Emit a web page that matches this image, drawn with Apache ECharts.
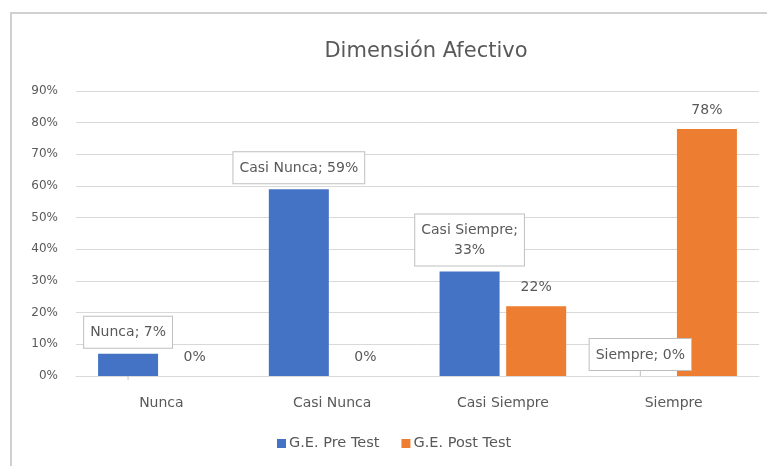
<!DOCTYPE html>
<html>
<head>
<meta charset="utf-8">
<script src="https://cdn.jsdelivr.net/npm/echarts@6/dist/echarts.min.js"></script>
<style>
  html, body { margin: 0; padding: 0; background: #fff; }
  #chart { width: 767px; height: 466px; }
</style>
</head>
<body>
<div id="chart"></div>
<script>
const categories = ['Nunca', 'Casi Nunca', 'Casi Siempre', 'Siempre']
const preTest = [7, 59, 33, 0]
const postTest = [0, 0, 22, 78]
const seriesNames = ['G.E. Pre Test', 'G.E. Post Test']
const yTicks = [0, 10, 20, 30, 40, 50, 60, 70, 80, 90]

const FONT = '"DejaVu Sans", sans-serif'
const TEXT = '#595959'

const chart = echarts.init(document.getElementById('chart'))

chart.setOption({
  animation: false,
  textStyle: { fontFamily: FONT },
  graphic: [{
    type: 'rect',
    shape: { x: 11, y: 13, width: 770, height: 470 },
    style: { fill: 'none', stroke: '#d0d0d0', lineWidth: 2 },
    silent: true
  }],
  title: {
    text: 'Dimensión Afectivo',
    left: 421,
    top: 36,
    textAlign: 'center',
    textStyle: { fontFamily: FONT, fontSize: 21, fontWeight: 'normal', color: TEXT }
  },
  legend: {
    data: seriesNames,
    left: 272,
    top: 431,
    itemWidth: 9,
    itemHeight: 9,
    itemGap: 22,
    icon: 'rect',
    textStyle: { fontFamily: FONT, fontSize: 14.5, color: TEXT, padding: [0, 0, 0, -2] }
  },
  grid: { left: 76, right: 8, top: 91, bottom: 90 },
  xAxis: {
    type: 'category',
    data: categories,
    axisTick: { show: false },
    axisLine: { lineStyle: { color: '#d9d9d9' } },
    axisLabel: { fontFamily: FONT, fontSize: 14, color: TEXT, margin: 20 }
  },
  yAxis: {
    type: 'value',
    min: yTicks[0],
    max: yTicks[yTicks.length - 1],
    interval: 10,
    axisLine: { show: false },
    axisTick: { show: false },
    splitLine: { lineStyle: { color: '#d9d9d9' } },
    axisLabel: {
      fontFamily: FONT, fontSize: 12, color: TEXT, margin: 18,
      formatter: v => v + '%'
    }
  },
  series: [
    {
      name: seriesNames[0],
      type: 'bar',
      data: preTest,
      barWidth: 60,
      barGap: '11%',
      itemStyle: { color: '#4472C4' },
      label: {
        show: true,
        position: 'top',
        distance: 6,
        fontFamily: FONT,
        fontSize: 14,
        color: TEXT,
        backgroundColor: '#fff',
        borderColor: '#bfbfbf',
        borderWidth: 1,
        padding: [6, 6, 5, 6],
        lineHeight: 20,
        align: 'center',
        formatter: p => p.dataIndex === 2
          ? p.name + ';\n' + p.value + '%'
          : p.name + '; ' + p.value + '%'
      },
      labelLine: { show: true, lineStyle: { color: '#bfbfbf', width: 1 } }
    },
    {
      name: seriesNames[1],
      type: 'bar',
      data: postTest,
      barWidth: 60,
      itemStyle: { color: '#ED7D31' },
      label: {
        show: true,
        position: 'top',
        distance: 12,
        fontFamily: FONT,
        fontSize: 14,
        color: TEXT,
        formatter: p => p.value + '%'
      }
    }
  ]
})
</script>
</body>
</html>
